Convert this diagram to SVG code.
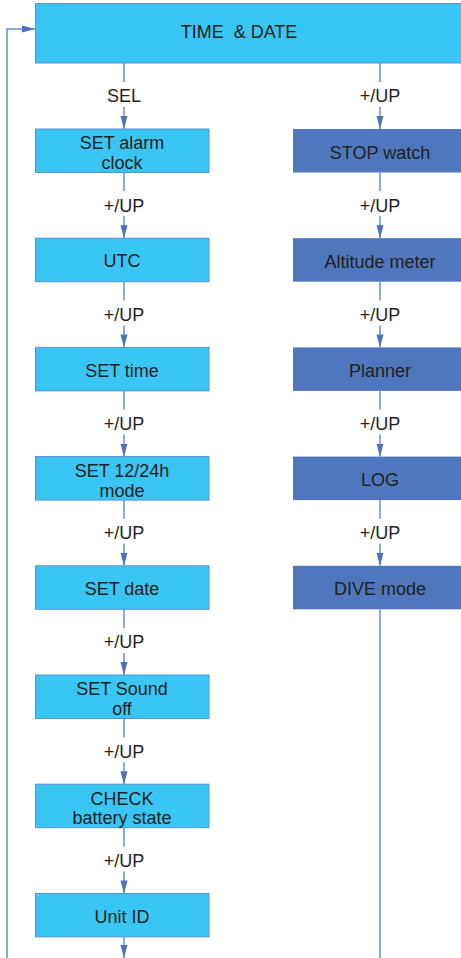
<svg xmlns="http://www.w3.org/2000/svg" width="461" height="958" viewBox="0 0 461 958">
<defs>
<style>
.lb{fill:#3ac6f4;stroke:#5a8fd2;stroke-width:1}
.db{fill:#4f77bd}
.t{font-family:"Liberation Sans",Arial,sans-serif;font-size:18px;fill:#231f20;text-anchor:middle}
.c{fill:none;stroke:#8eaadb;stroke-width:2}
</style>
<marker id="ah" markerUnits="userSpaceOnUse" markerWidth="14" markerHeight="8" refX="13" refY="3.5" orient="auto">
<path d="M0,0 L13,3.5 L0,7 z" fill="#4a72c2"/>
</marker>
</defs>
<rect width="461" height="958" fill="#ffffff"/>
<g id="connectors">
<path class="c" d="M7,958 V29 H35" marker-end="url(#ah)"/>
<path class="c" d="M124,63 V82"/><path class="c" d="M124,107 V129" marker-end="url(#ah)"/>
<path class="c" d="M124,172.5 V191.2"/><path class="c" d="M124,216.2 V238.2" marker-end="url(#ah)"/>
<path class="c" d="M124,281.7 V300.4"/><path class="c" d="M124,325.4 V347.4" marker-end="url(#ah)"/>
<path class="c" d="M124,390.9 V409.6"/><path class="c" d="M124,434.6 V456.6" marker-end="url(#ah)"/>
<path class="c" d="M124,500.1 V518.8"/><path class="c" d="M124,543.8 V565.8" marker-end="url(#ah)"/>
<path class="c" d="M124,609.3 V628"/><path class="c" d="M124,653 V675" marker-end="url(#ah)"/>
<path class="c" d="M124,718.5 V737.2"/><path class="c" d="M124,762.2 V784.2" marker-end="url(#ah)"/>
<path class="c" d="M124,827.7 V846.4"/><path class="c" d="M124,871.4 V893.4" marker-end="url(#ah)"/>
<path class="c" d="M124,936.9 V958" marker-end="url(#ah)"/>
<path class="c" d="M380,63 V82"/><path class="c" d="M380,107 V129" marker-end="url(#ah)"/>
<path class="c" d="M380,172.5 V191.2"/><path class="c" d="M380,216.2 V238.2" marker-end="url(#ah)"/>
<path class="c" d="M380,281.7 V300.4"/><path class="c" d="M380,325.4 V347.4" marker-end="url(#ah)"/>
<path class="c" d="M380,390.9 V409.6"/><path class="c" d="M380,434.6 V456.6" marker-end="url(#ah)"/>
<path class="c" d="M380,500.1 V518.8"/><path class="c" d="M380,543.8 V565.8" marker-end="url(#ah)"/>
<path class="c" d="M380,609.3 V958"/>
<g class="t">
<text x="124" y="102">SEL</text>
<text x="380" y="102">+/UP</text>
<text x="124" y="211.5">+/UP</text><text x="380" y="211.5">+/UP</text>
<text x="124" y="320.7">+/UP</text><text x="380" y="320.7">+/UP</text>
<text x="124" y="429.9">+/UP</text><text x="380" y="429.9">+/UP</text>
<text x="124" y="539.1">+/UP</text><text x="380" y="539.1">+/UP</text>
<text x="124" y="648.3">+/UP</text>
<text x="124" y="757.5">+/UP</text>
<text x="124" y="866.7">+/UP</text>
</g>
</g>
<g id="time-date"><rect class="lb" x="35.5" y="3.5" width="430" height="59.5"/><text class="t" x="239" y="37.5" xml:space="preserve">TIME  &amp; DATE</text></g>
<g id="set-alarm"><rect class="lb" x="35.5" y="129" width="173.5" height="43.5"/><text class="t" x="122" y="149.3">SET alarm</text><text class="t" x="122" y="169">clock</text></g>
<g id="utc"><rect class="lb" x="35.5" y="238.2" width="173.5" height="43.5"/><text class="t" x="122" y="267.3">UTC</text></g>
<g id="set-time"><rect class="lb" x="35.5" y="347.4" width="173.5" height="43.5"/><text class="t" x="122" y="376.5">SET time</text></g>
<g id="set-1224"><rect class="lb" x="35.5" y="456.6" width="173.5" height="43.5"/><text class="t" x="122" y="476.9">SET 12/24h</text><text class="t" x="122" y="496.6">mode</text></g>
<g id="set-date"><rect class="lb" x="35.5" y="565.8" width="173.5" height="43.5"/><text class="t" x="122" y="594.9">SET date</text></g>
<g id="set-sound"><rect class="lb" x="35.5" y="675" width="173.5" height="43.5"/><text class="t" x="122" y="695.3">SET Sound</text><text class="t" x="122" y="715">off</text></g>
<g id="check-battery"><rect class="lb" x="35.5" y="784.2" width="173.5" height="43.5"/><text class="t" x="122" y="804.5">CHECK</text><text class="t" x="122" y="824.2">battery state</text></g>
<g id="unit-id"><rect class="lb" x="35.5" y="893.4" width="173.5" height="43.5"/><text class="t" x="122" y="922.5">Unit ID</text></g>
<g id="stop-watch"><rect class="db" x="293" y="129" width="170" height="43.5"/><text class="t" x="380" y="158.5">STOP watch</text></g>
<g id="altitude"><rect class="db" x="293" y="238.2" width="170" height="43.5"/><text class="t" x="380" y="267.7">Altitude meter</text></g>
<g id="planner"><rect class="db" x="293" y="347.4" width="170" height="43.5"/><text class="t" x="380" y="376.9">Planner</text></g>
<g id="log"><rect class="db" x="293" y="456.6" width="170" height="43.5"/><text class="t" x="380" y="486.1">LOG</text></g>
<g id="dive-mode"><rect class="db" x="293" y="565.8" width="170" height="43.5"/><text class="t" x="380" y="595.3">DIVE mode</text></g>
</svg>
